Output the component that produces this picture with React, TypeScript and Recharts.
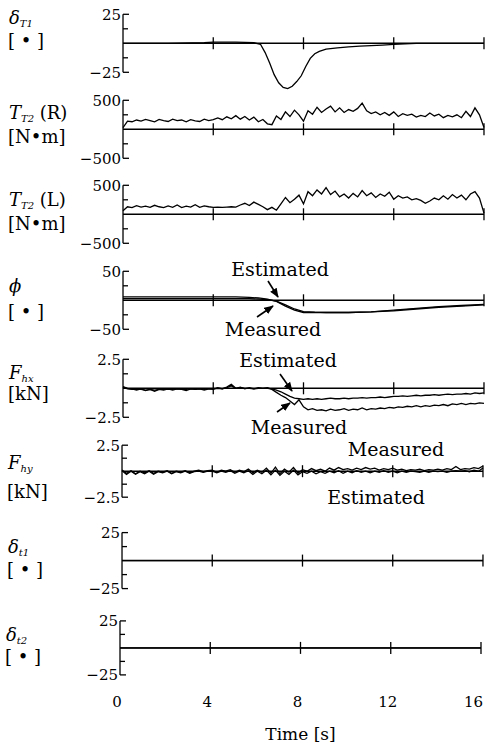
import { ComposedChart, Line, XAxis, YAxis, ReferenceLine, Scatter } from "recharts";

const SERIF = '"DejaVu Serif", "Liberation Serif", serif';

// time grid (s) for the sampled signals
const tGrid = [
  0, 0.2, 0.4, 0.6, 0.8, 1, 1.2, 1.4, 1.6, 1.8,
  2, 2.2, 2.4, 2.6, 2.8, 3, 3.2, 3.4, 3.6, 3.8,
  4, 4.2, 4.4, 4.6, 4.8, 5, 5.2, 5.4, 5.6, 5.8,
  6, 6.2, 6.4, 6.6, 6.8, 7, 7.2, 7.4, 7.6, 7.8,
  8, 8.2, 8.4, 8.6, 8.8, 9, 9.2, 9.4, 9.6, 9.8,
  10, 10.2, 10.4, 10.6, 10.8, 11, 11.2, 11.4, 11.6, 11.8,
  12, 12.2, 12.4, 12.6, 12.8, 13, 13.2, 13.4, 13.6, 13.8,
  14, 14.2, 14.4, 14.6, 14.8, 15, 15.2, 15.4, 15.6, 15.8,
  16,
];

// delta_T1 [deg]
const dT1Time = [0, 2, 3.6, 4, 5, 5.8, 6.1, 6.3, 6.5, 6.7, 6.9, 7.1, 7.3, 7.5, 7.7, 7.9, 8.1, 8.3, 8.5, 8.7, 9.0, 9.5, 10, 10.5, 11, 11.5, 12, 12.5, 13, 16];
const dT1 = [0, 0, 0.5, 1, 1, 0.5, -1, -8, -17, -27, -34, -38, -39, -37, -33, -28, -20, -13, -9, -7, -5, -4, -3, -2.5, -2, -1.5, -1, -0.5, 0, 0];

// T_T2 (R) [N m]
const torqueR = [
  30, 140, 130, 160, 140, 170, 150, 130, 170, 150,
  135, 175, 150, 160, 130, 165, 145, 135, 175, 150,
  165, 195, 165, 215, 180, 235, 175, 220, 160, 210,
  130, 170, 95, 80, 230, 170, 300, 220, 330, 250,
  140, 320, 260, 380, 290, 350, 400, 300, 370, 290,
  340, 310, 360, 450, 320, 270, 300, 250, 290, 240,
  300, 220, 270, 240, 260, 210, 240, 220, 280, 230,
  260, 200, 240, 215, 250, 200, 310, 220, 370, 250,
  30,
];

// T_T2 (L) [N m]
const torqueL = [
  60, 130, 115, 150, 125, 140, 120, 155, 130, 115,
  145, 120, 160, 115, 140, 125, 165, 120, 145, 130,
  120, 125, 120, 125, 130, 125, 160, 190, 150, 210,
  170, 130, 80, 120, 70, 180, 290, 200, 260, 330,
  180, 390, 320, 420, 350, 460, 340, 400, 300, 350,
  280, 360, 300, 410, 320, 370, 290, 350, 310, 380,
  260, 320, 280, 300, 250, 270, 240, 190, 230, 280,
  250, 320, 260, 340, 280, 330, 250, 350, 390, 280,
  20,
];

// phi [deg]
const phiTime = [0, 2, 4, 5, 5.6, 6.0, 6.4, 6.8, 7.2, 7.6, 8.0, 8.5, 9, 10, 11, 12, 13, 14, 15, 16];
const phiEstimated = [6, 6, 6, 6, 5, 4, 2, -2, -10, -17, -21, -21, -21, -21, -20, -18, -15, -12, -10, -8];
const phiMeasured = [3, 3, 3, 3, 3, 2, 1, -1.5, -8, -15, -19.5, -20.5, -21, -21, -20, -17, -14, -11, -9, -7];

// F_hx [kN]
const fhxMeasured = [
  0.15, 0, -0.05, -0.15, -0.05, -0.2, -0.1, -0.25, -0.1, -0.15,
  -0.05, -0.15, -0.05, -0.1, -0.2, -0.05, -0.1, -0.05, -0.15, -0.05,
  -0.1, 0.05, -0.05, 0.1, 0.35, 0, 0.1, -0.05, 0.05, -0.05,
  0.05, 0, 0.05, -0.1, -0.35, -0.6, -0.8, -1.1, -1.4, -1.0,
  -1.6, -1.85, -1.75, -1.9, -1.85, -1.95, -1.8, -1.9, -1.85, -1.75,
  -1.9, -1.8, -1.85, -1.7, -1.85, -1.75, -1.8, -1.7, -1.75, -1.65,
  -1.7, -1.6, -1.65, -1.55, -1.6, -1.5, -1.6, -1.5, -1.55, -1.45,
  -1.5, -1.4, -1.5, -1.35, -1.4, -1.3, -1.4, -1.3, -1.35, -1.25,
  -1.3,
];
const fhxEstimated = [
  0.1, -0.05, -0.1, -0.1, -0.1, -0.15, -0.1, -0.15, -0.1, -0.1,
  -0.1, -0.1, -0.05, -0.1, -0.1, -0.05, -0.1, -0.05, -0.1, -0.05,
  -0.05, 0, -0.05, 0.05, 0.2, 0, 0.05, 0, 0, -0.05,
  0, 0, 0, -0.05, -0.15, -0.3, -0.5, -0.7, -0.85, -0.9,
  -0.95, -0.9, -0.95, -0.9, -0.95, -0.9, -0.85, -0.9, -0.9, -0.85,
  -0.9, -0.85, -0.85, -0.8, -0.85, -0.8, -0.8, -0.75, -0.8, -0.75,
  -0.7, -0.7, -0.65, -0.7, -0.65, -0.6, -0.65, -0.6, -0.6, -0.55,
  -0.6, -0.55, -0.5, -0.55, -0.5, -0.5, -0.45, -0.5, -0.4, -0.45,
  -0.4,
];

// F_hy [kN]
const fhyMeasured = [
  0.1, -0.2, 0.05, -0.25, 0, -0.15, 0.05, -0.2, 0, -0.1,
  0.05, -0.2, 0, -0.1, 0.05, -0.15, 0, 0.1, -0.05, 0.05,
  0.1, -0.1, 0.1, 0, 0.15, -0.1, 0.1, -0.05, 0.2, -0.15,
  0.1, -0.1, 0.3, -0.2, 0.4, -0.25, 0.2, -0.1, 0.35, -0.2,
  0.15, 0, 0.25, 0.05, 0.2, 0, 0.3, 0.1, 0.35, 0.15,
  0.25, 0.1, 0.3, 0.15, 0.35, 0.2, 0.3, 0.1, 0.25, 0.15,
  0.3, 0.1, 0.2, 0.05, 0.15, 0.1, 0.2, 0.05, 0.15, 0.1,
  0.2, 0.1, 0.25, 0.15, 0.45, 0.15, 0.25, 0.2, 0.35, 0.25,
  0.5,
];
const fhyEstimated = [
  0.05, -0.3, 0, -0.3, -0.05, -0.25, 0, -0.3, -0.05, -0.15,
  0, -0.25, -0.05, -0.15, 0, -0.2, -0.05, 0, -0.1, 0,
  0, -0.15, 0, -0.1, 0.05, -0.2, 0, -0.15, 0.05, -0.3,
  0, -0.25, 0.1, -0.35, 0.1, -0.4, 0, -0.3, 0.1, -0.35,
  -0.05, -0.2, 0, -0.25, -0.05, -0.2, 0, -0.15, 0.05, -0.2,
  0, -0.15, 0.05, -0.1, 0, -0.15, 0, -0.1, 0.05, -0.1,
  0, -0.15, 0, -0.1, 0, -0.05, -0.1, 0, -0.1, 0,
  -0.05, 0, -0.1, 0, 0.05, 0, 0.05, -0.05, 0.1, 0,
  0.3,
];

// delta_t1, delta_t2 [deg] (flat)
const dt1Time = [0, 16];
const dt1 = [0, 0];
const dt2Time = [0, 16];
const dt2 = [0, 0];

const timeTicks = [0, 4, 8, 12, 16];
const zeroTicks = [4, 8, 12, 16];

const pts = (ts: number[], vs: number[]) => ts.map((t, i) => ({ t, v: vs[i] }));

type PanelDef = {
  max: number;
  hi: string;
  lo: string;
  zeroY: number;
  half: number;
  dx: number;
  sym: React.ReactNode;
  unit: string;
  symTop: number;
  unitTop: number;
  lines: { t: number; v: number }[][];
  last?: boolean;
};

const sub = (s: string) => (
  <span style={{ fontSize: 10, fontStyle: "italic", verticalAlign: "-3px" }}>{s}</span>
);

const panels: PanelDef[] = [
  { max: 25, hi: "25", lo: "−25", zeroY: 43, half: 29, dx: 0, sym: <><i>δ</i>{sub("T1")}</>, unit: "[ • ]", symTop: -34, unitTop: -11, lines: [pts(dT1Time, dT1)] },
  { max: 500, hi: "500", lo: "−500", zeroY: 129, half: 29, dx: 0, sym: <><i>T</i>{sub("T2")} (R)</>, unit: "[N•m]", symTop: -25, unitTop: -1, lines: [pts(tGrid, torqueR)] },
  { max: 500, hi: "500", lo: "−500", zeroY: 214, half: 29, dx: 0, sym: <><i>T</i>{sub("T2")} (L)</>, unit: "[N•m]", symTop: -23, unitTop: 1, lines: [pts(tGrid, torqueL)] },
  { max: 50, hi: "50", lo: "−50", zeroY: 300, half: 29, dx: 0, sym: <i>ϕ</i>, unit: "[ • ]", symTop: -23, unitTop: 3, lines: [pts(phiTime, phiEstimated), pts(phiTime, phiMeasured)] },
  { max: 2.5, hi: "2.5", lo: "−2.5", zeroY: 388, half: 29, dx: 0, sym: <><i>F</i>{sub("hx")}</>, unit: "[kN]", symTop: -24, unitTop: -3, lines: [pts(tGrid, fhxEstimated), pts(tGrid, fhxMeasured)] },
  { max: 2.5, hi: "2.5", lo: "−2.5", zeroY: 471, half: 26, dx: -1, sym: <><i>F</i>{sub("hy")}</>, unit: "[kN]", symTop: -17, unitTop: 12, lines: [pts(tGrid, fhyMeasured), pts(tGrid, fhyEstimated)] },
  { max: 25, hi: "25", lo: "−25", zeroY: 561, half: 28, dx: -1, sym: <><i>δ</i>{sub("t1")}</>, unit: "[ • ]", symTop: -23, unitTop: 0, lines: [pts(dt1Time, dt1)] },
  { max: 25, hi: "25", lo: "−25", zeroY: 648, half: 27, dx: -3, sym: <><i>δ</i>{sub("t2")}</>, unit: "[ • ]", symTop: -22, unitTop: 0, lines: [pts(dt2Time, dt2)], last: true },
];

const notes = [
  { text: "Estimated", x: 280, y: 276 },
  { text: "Measured", x: 273, y: 336 },
  { text: "Estimated", x: 288, y: 367 },
  { text: "Measured", x: 299, y: 434 },
  { text: "Measured", x: 396, y: 456 },
  { text: "Estimated", x: 376, y: 504 },
];
const arrows = [
  { x1: 268, y1: 281, x2: 278, y2: 297 },
  { x1: 257, y1: 317, x2: 273, y2: 306 },
  { x1: 280, y1: 374, x2: 292, y2: 391 },
  { x1: 277, y1: 412, x2: 290, y2: 403 },
];

const EXT = 1.7; // domain stretch so signals may run past the bracket ends

function PanelChart({ p }: { p: PanelDef }) {
  const plotH = 2 * p.half * EXT;
  const bottomH = p.last ? 52 : 0;
  const yTick = (props: any) => {
    const { x, y, payload } = props;
    const v = payload.value;
    const end = Math.abs(v) === p.max;
    return (
      <g>
        <line x1={x} x2={x + (end ? 6 : 5)} y1={y} y2={y} stroke="#000" strokeWidth={1.3} />
        {end && (
          <text x={x - 2} y={y} dy="0.36em" textAnchor="end" fontFamily={SERIF} fontSize={15} fill="#000">
            {v > 0 ? p.hi : p.lo}
          </text>
        )}
      </g>
    );
  };
  const xTick = (props: any) => {
    const v = props.payload.value;
    const atEdge = v === 16;
    return (
      <text x={atEdge ? props.x + 2 : props.x - 3} y={props.y} dy="0.75em" textAnchor={atEdge ? "end" : "middle"} fontFamily={SERIF} fontSize={15} fill="#000">
        {v}
      </text>
    );
  };
  const tickMark = (props: any) => (
    <line x1={props.cx} x2={props.cx} y1={props.cy - 6} y2={props.cy + 6} stroke="#000" strokeWidth={1.3} />
  );
  return (
    <div style={{ position: "absolute", left: p.dx, top: p.zeroY - plotH / 2 }}>
      <ComposedChart width={487} height={plotH + bottomH} margin={{ top: 0, right: 3, bottom: 0, left: 0 }}>
        <XAxis
          type="number"
          dataKey="t"
          domain={[0, 16]}
          ticks={timeTicks}
          interval={0}
          hide={!p.last}
          axisLine={false}
          tickLine={false}
          tickSize={0}
          tickMargin={2}
          height={bottomH}
          tick={xTick}
          label={p.last ? { value: "Time [s]", position: "insideBottom", offset: 6, fill: "#000", fontFamily: SERIF, fontSize: 17 } : undefined}
        />
        <YAxis
          type="number"
          domain={[-p.max * EXT, p.max * EXT]}
          ticks={[-p.max, -p.max / 2, p.max / 2, p.max]}
          interval={0}
          width={123}
          axisLine={false}
          tickLine={false}
          tickSize={0}
          tickMargin={0}
          tick={yTick}
        />
        <ReferenceLine y={0} stroke="#000" strokeWidth={1.5} />
        <ReferenceLine segment={[{ x: 0, y: -p.max }, { x: 0, y: p.max }]} stroke="#000" strokeWidth={1.3} />
        <Scatter data={zeroTicks.map((t) => ({ t, v: 0 }))} dataKey="v" shape={tickMark} isAnimationActive={false} />
        {p.lines.map((d, i) => (
          <Line key={i} data={d} dataKey="v" type="linear" stroke="#000" strokeWidth={1.3} dot={false} isAnimationActive={false} />
        ))}
      </ComposedChart>
    </div>
  );
}

export default function App() {
  return (
    <div style={{ position: "absolute", left: 0, top: 0, width: 487, height: 749, background: "#fff", overflow: "hidden", fontFamily: SERIF, color: "#000" }}>
      {panels.map((p, i) => (
        <PanelChart key={i} p={p} />
      ))}
      {panels.map((p, i) => (
        <div key={"l" + i}>
          <div style={{ position: "absolute", left: 9 + p.dx, top: p.zeroY + p.symTop, fontSize: 18, lineHeight: "18px", whiteSpace: "nowrap" }}>{p.sym}</div>
          <div style={{ position: "absolute", left: 8 + p.dx, top: p.zeroY + p.unitTop, fontSize: 18, lineHeight: "18px", whiteSpace: "nowrap" }}>{p.unit}</div>
        </div>
      ))}
      <svg width={487} height={749} style={{ position: "absolute", left: 0, top: 0, pointerEvents: "none" }}>
        <defs>
          <marker id="ah" viewBox="0 0 10 10" refX="9" refY="5" markerWidth="6" markerHeight="6" orient="auto">
            <path d="M0,1 L10,5 L0,9 z" fill="#000" />
          </marker>
        </defs>
        {arrows.map((a, i) => (
          <line key={i} x1={a.x1} y1={a.y1} x2={a.x2} y2={a.y2} stroke="#000" strokeWidth={1.6} markerEnd="url(#ah)" />
        ))}
        {notes.map((n, i) => (
          <text key={i} x={n.x} y={n.y} textAnchor="middle" fontFamily={SERIF} fontSize={19} fill="#000">
            {n.text}
          </text>
        ))}
      </svg>
    </div>
  );
}
